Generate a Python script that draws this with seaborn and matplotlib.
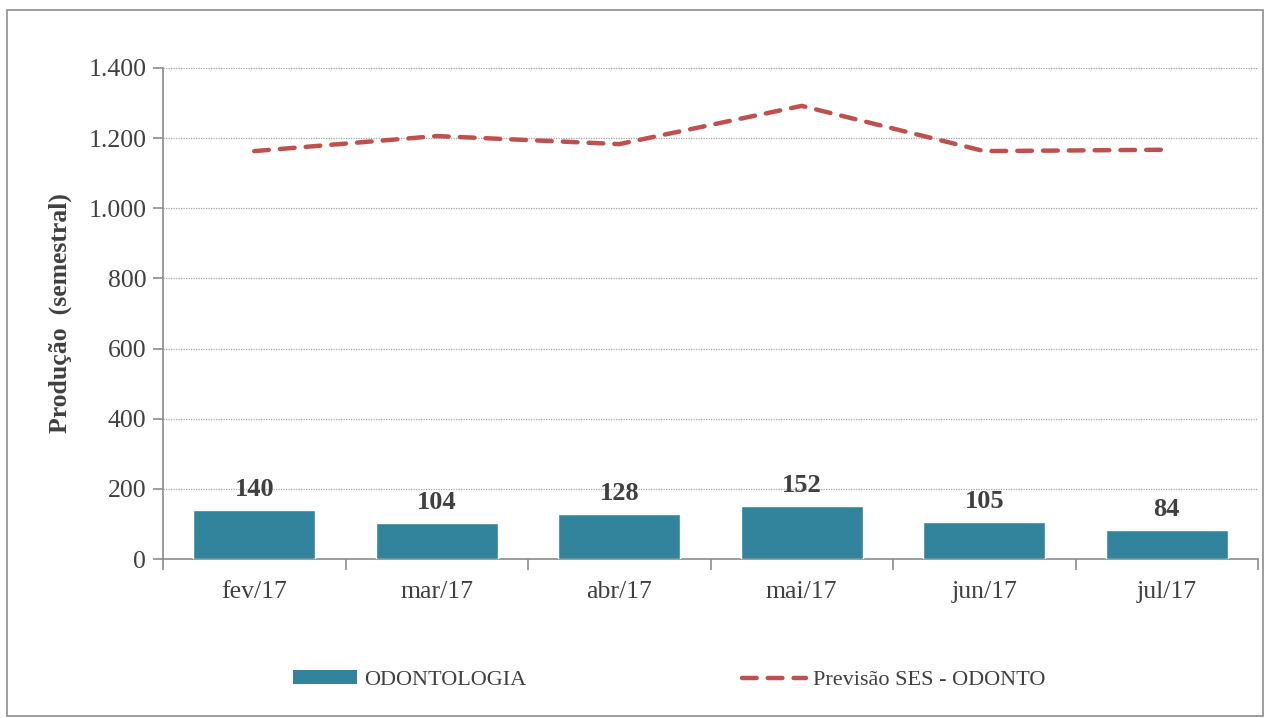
import numpy as np
import pandas as pd
import matplotlib
matplotlib.use("Agg")
import matplotlib.pyplot as plt
import seaborn as sns
from matplotlib.patches import Patch, Rectangle
from matplotlib.lines import Line2D

months = ["fev/17", "mar/17", "abr/17", "mai/17", "jun/17", "jul/17"]
odontologia = [140, 104, 128, 152, 105, 84]
previsao = [1163, 1206, 1183, 1292, 1163, 1167]
yticks = [0, 200, 400, 600, 800, 1000, 1200, 1400]
ytick_labels = ["0", "200", "400", "600", "800", "1.000", "1.200", "1.400"]

sns.set_theme(style="white")
plt.rcParams["font.family"] = ["Liberation Serif", "DejaVu Serif"]

bar_color = "#31849B"
line_color = "#C0504D"
text_color = "#404040"

fig = plt.figure(figsize=(12.68, 7.18), dpi=100)
fig.patch.set_facecolor("white")
fig.add_artist(Rectangle((7/1268, 1 - 716/718), 1256/1268, 706/718,
                         transform=fig.transFigure, fill=False,
                         edgecolor="#8C8C8C", linewidth=1.2))

ax = fig.add_axes([163/1268, 1 - 559/718, (1258 - 163)/1268, (559 - 68)/718])

df = pd.DataFrame({"mes": months, "val": odontologia})
sns.barplot(data=df, x="mes", y="val", color=bar_color, width=0.67,
            saturation=1, ax=ax, zorder=3)
sns.lineplot(x=np.arange(len(months)), y=previsao, ax=ax, color=line_color,
             linewidth=3.2, zorder=4)
ln = ax.lines[-1]
ln.set_dashes((3.3, 2.5))
ln.set_dash_capstyle("round")

for i, v in enumerate(odontologia):
    ax.text(i, v + 25, str(v), ha="center", va="bottom", fontsize=19,
            fontweight="bold", color=text_color, zorder=5)

ax.set_xlim(-0.5, len(months) - 0.5)
ax.set_ylim(0, 1400)
ax.set_yticks(yticks)
ax.set_yticklabels(ytick_labels)
ax.yaxis.grid(True, linestyle=(0, (1, 1)), color="#A6A6A6", linewidth=0.9, zorder=0)
ax.xaxis.grid(False)

for s in ["top", "right"]:
    ax.spines[s].set_visible(False)
for s in ["left", "bottom"]:
    ax.spines[s].set_color("#8C8C8C")
    ax.spines[s].set_linewidth(1.2)

ax.tick_params(axis="y", which="major", length=7, width=1.2, color="#8C8C8C",
               direction="out", labelsize=18.5, labelcolor=text_color, pad=5, left=True)
ax.tick_params(axis="x", which="major", length=0, labelsize=18.5,
               labelcolor=text_color, pad=16)
ax.set_xticks(np.arange(-0.5, len(months)), minor=True)
ax.tick_params(axis="x", which="minor", length=8, width=1.2, color="#8C8C8C",
               direction="out", bottom=True)

ax.set_xlabel("")
ax.set_ylabel("Produção  (semestral)", fontsize=18.5, fontweight="bold",
              color=text_color, labelpad=12)

handles = [Patch(facecolor=bar_color, edgecolor="none"),
           Line2D([0], [0], color=line_color, linewidth=3.2, dashes=(3.3, 2.5),
                  dash_capstyle="round")]
labels = ["ODONTOLOGIA", "Previsão SES - ODONTO"]
leg = fig.legend(handles, labels, loc="center left",
                 bbox_to_anchor=(273/1268, 1 - 680/718),
                 ncol=2, frameon=False, fontsize=16, handlelength=2.9,
                 handleheight=0.55, columnspacing=9.7, handletextpad=0.3)
for t in leg.get_texts():
    t.set_color(text_color)

fig.savefig("out.png", dpi=100, facecolor="white")
